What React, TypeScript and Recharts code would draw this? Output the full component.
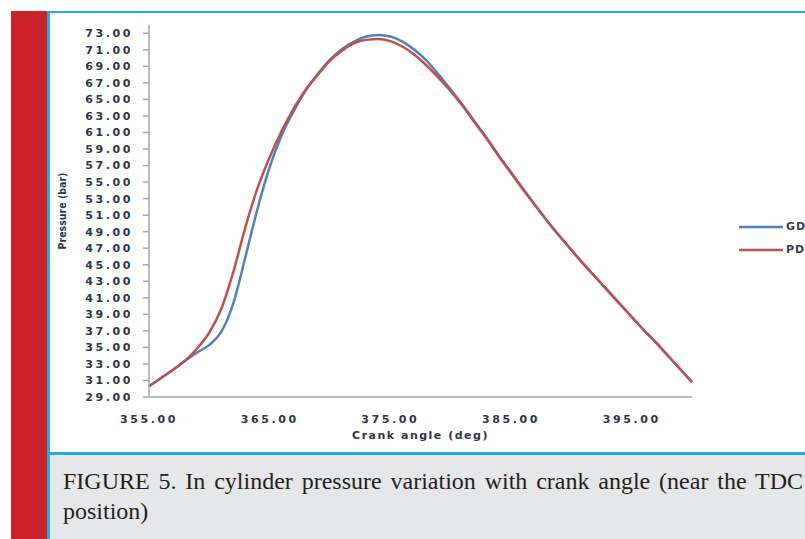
import { LineChart, Line, XAxis, YAxis, Legend } from "recharts";

// crank angle (deg)
const angles = [
  355, 356, 357, 358, 359, 360, 361, 362, 363, 364, 365, 366, 367, 368, 369, 370,
  371, 372, 373, 374, 375, 376, 377, 378, 379, 380, 381, 382, 383, 384, 385, 386,
  387, 388, 389, 390, 391, 392, 393, 394, 395, 396, 397, 398, 399, 400,
];

// pressure (bar), GD
const gdPressure = [
  30.3, 31.3, 32.3, 33.4, 34.4, 35.3, 36.9, 40.4, 46.0, 51.8, 56.8, 60.7, 63.6, 66.1, 68.1, 69.8,
  71.1, 72.0, 72.6, 72.8, 72.6, 72.0, 71.0, 69.7, 68.0, 66.2, 64.3, 62.3, 60.3, 58.2, 56.2, 54.2,
  52.2, 50.3, 48.5, 46.8, 45.1, 43.5, 41.9, 40.3, 38.7, 37.1, 35.6, 34.0, 32.4, 30.8,
];

// pressure (bar), PD
const pdPressure = [
  30.3, 31.3, 32.3, 33.4, 34.9, 36.8, 39.7, 44.2, 49.6, 54.3, 58.0, 61.2, 63.9, 66.2, 68.0, 69.7,
  70.9, 71.8, 72.2, 72.3, 72.05, 71.4, 70.4, 69.1, 67.6, 66.0, 64.2, 62.2, 60.2, 58.1, 56.1, 54.1,
  52.2, 50.3, 48.5, 46.8, 45.1, 43.5, 41.9, 40.3, 38.7, 37.1, 35.6, 34.0, 32.4, 30.8,
];

const xTicks = [355, 365, 375, 385, 395];
const yTicks = [29, 31, 33, 35, 37, 39, 41, 43, 45, 47, 49, 51, 53, 55, 57, 59, 61, 63, 65, 67, 69, 71, 73];

const data = angles.map((a, i) => ({ angle: a, gd: gdPressure[i], pd: pdPressure[i] }));

const tickFont = {
  fontFamily: "DejaVu Sans",
  fontWeight: 700,
  fontSize: 11,
  letterSpacing: 2.6,
  fill: "#2a3550",
};

function LegendBox({ payload }: any) {
  return (
    <div>
      {(payload || []).map((e: any) => (
        <div key={e.value} style={{ display: "flex", alignItems: "center", height: 23 }}>
          <svg width={44} height={4}>
            <line x1={0} y1={2} x2={44} y2={2} stroke={e.color} strokeWidth={2.5} />
          </svg>
          <span
            style={{
              marginLeft: 3,
              fontFamily: "DejaVu Sans",
              fontWeight: 700,
              fontSize: 11,
              letterSpacing: 1,
              color: "#3b3b4f",
              whiteSpace: "nowrap",
            }}
          >
            {e.value}
          </span>
        </div>
      ))}
    </div>
  );
}

function YLabel({ viewBox }: any) {
  const cx = viewBox.x - 27;
  const cy = viewBox.y + viewBox.height / 2;
  return (
    <text
      x={cx}
      y={cy}
      transform={`rotate(-90, ${cx}, ${cy})`}
      textAnchor="middle"
      dominantBaseline="central"
      fontFamily="DejaVu Sans Condensed, DejaVu Sans"
      fontWeight={700}
      fontSize={10.5}
      fill="#2a3550"
    >
      Pressure (bar)
    </text>
  );
}

export default function App() {
  return (
    <div
      style={{
        position: "absolute",
        left: 0,
        top: 0,
        width: 805,
        height: 539,
        overflow: "hidden",
        background: "#fff",
      }}
    >
      <div style={{ position: "absolute", left: 11, top: 11, width: 36, height: 528, background: "#cc2229" }} />
      <div style={{ position: "absolute", left: 47, top: 11, width: 3, height: 528, background: "#1fabe3" }} />
      <div style={{ position: "absolute", left: 47, top: 11, width: 758, height: 2, background: "#1fabe3" }} />
      <div style={{ position: "absolute", left: 47, top: 452, width: 758, height: 3, background: "#1fabe3" }} />
      <div style={{ position: "absolute", left: 50, top: 455, width: 755, height: 84, background: "#e6e7e8" }} />

      <div
        style={{
          position: "absolute",
          left: 63,
          top: 466,
          width: 740,
          fontFamily: "Liberation Serif",
          fontSize: 24,
          lineHeight: "30px",
          color: "#231f20",
        }}
      >
        <div style={{ textAlign: "justify", textAlignLast: "justify", whiteSpace: "nowrap" }}>
          FIGURE 5. In cylinder pressure variation with crank angle (near the TDC
        </div>
        <div>position)</div>
      </div>

      <div style={{ position: "absolute", left: 0, top: 0 }}>
        <LineChart width={805} height={452} data={data} margin={{ top: 25, right: 113, left: 89, bottom: 7 }}>
          <XAxis
            dataKey="angle"
            type="number"
            domain={[355, 400]}
            ticks={xTicks}
            interval={0}
            tickFormatter={(v) => v.toFixed(2)}
            tick={tickFont}
            tickLine={false}
            tickMargin={12}
            height={48}
            axisLine={{ stroke: "#a6a6a6", strokeWidth: 1.5 }}
            label={{
              value: "Crank angle (deg)",
              position: "insideBottom",
              offset: 6,
              style: { ...tickFont, fontSize: 11, letterSpacing: 1.5 },
            }}
          />
          <YAxis
            type="number"
            domain={[29, 74]}
            ticks={yTicks}
            interval={0}
            tickFormatter={(v) => v.toFixed(2)}
            tick={tickFont}
            tickSize={6}
            tickMargin={10}
            width={60}
            axisLine={{ stroke: "#a6a6a6", strokeWidth: 1.5 }}
            tickLine={{ stroke: "#a6a6a6", strokeWidth: 1.5 }}
            label={{ content: YLabel }}
          />
          <Legend
            layout="vertical"
            align="center"
            verticalAlign="middle"
            content={LegendBox}
            wrapperStyle={{ left: 739, top: 215, width: 80 }}
          />
          <Line
            type="monotone"
            dataKey="gd"
            name="GD"
            stroke="#4f81bd"
            strokeWidth={2.5}
            dot={false}
            isAnimationActive={false}
          />
          <Line
            type="monotone"
            dataKey="pd"
            name="PD"
            stroke="#c0504d"
            strokeWidth={2.5}
            dot={false}
            isAnimationActive={false}
          />
        </LineChart>
      </div>
    </div>
  );
}
